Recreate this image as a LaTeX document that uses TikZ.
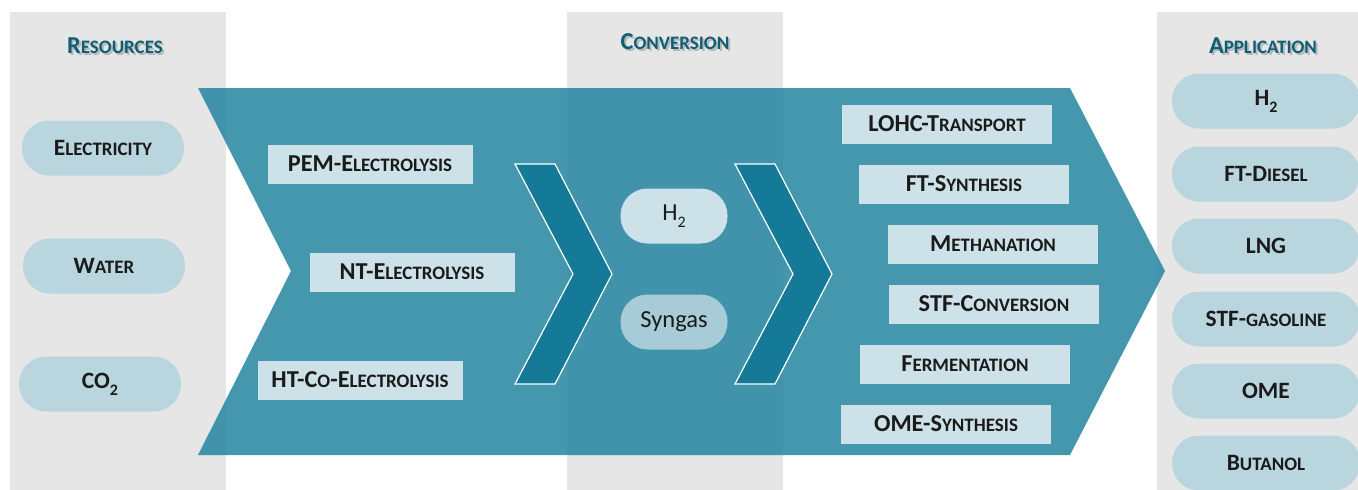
\documentclass[tikz,border=0pt]{standalone}
\usepackage{fontspec}
\setmainfont{Carlito}
\usepackage{xcolor}
\usepackage{tikz}

\definecolor{panelgray}{HTML}{E6E6E6}
\definecolor{flowteal}{RGB}{36,133,160}
\definecolor{chevteal}{HTML}{157A97}
\definecolor{boxblue}{HTML}{CDE2E8}
\definecolor{pillblue}{HTML}{B9D5DE}
\definecolor{gasblue}{HTML}{A8CCD7}
\definecolor{headteal}{HTML}{0E5F73}
\definecolor{labelgray}{HTML}{1A1A1A}

\newcommand\lc[1]{{\fontsize{19}{22}\selectfont #1}}
\newcommand\lowtwo{\raisebox{-0.3em}{\fontsize{16}{16}\selectfont 2}}

\tikzset{
  panel/.style={fill=panelgray},
  head/.style={font=\bfseries\fontsize{24.3}{28}\selectfont,text=headteal},
  headshadow/.style={font=\bfseries\fontsize{24.3}{28}\selectfont,text=black,opacity=0.2},
  pill/.style={rectangle,rounded corners=27pt,fill=pillblue,minimum width=162,minimum height=55,
    font=\bfseries\fontsize{23.4}{26}\selectfont,text=labelgray,inner sep=0pt},
  procbox/.style={rectangle,fill=boxblue,minimum width=205,minimum height=39,
    font=\bfseries\fontsize{24.3}{28}\selectfont,text=labelgray,inner sep=0pt},
  carrier/.style={rectangle,rounded corners=27pt,minimum width=107,minimum height=55,
    font=\fontsize{24.5}{27}\selectfont,text=labelgray,inner sep=0pt},
  chev/.style={fill=chevteal,draw=white,line width=1.2pt,line join=miter}
}

\begin{document}
\begin{tikzpicture}[x=1pt,y=-1pt]
\useasboundingbox (0,0) rectangle (1358,490);
% grey columns
\fill[panel] (10,12) rectangle (226,490);
\fill[panel] (567,12) rectangle (783,490);
\fill[panel] (1157,12) rectangle (1358,490);

\node (resshadow) at (117,48) [headshadow] {R\lc{ESOURCES}};
\node (reshead) at (115,46) [head] {R\lc{ESOURCES}};
\node (convshadow) at (677,44) [headshadow] {C\lc{ONVERSION}};
\node (convhead) at (675,42) [head] {C\lc{ONVERSION}};
\node (appshadow) at (1265,48) [headshadow] {A\lc{PPLICATION}};
\node (apphead) at (1263,46) [head] {A\lc{PPLICATION}};

% big arrow
\fill[flowteal,opacity=0.85] (198,88) -- (1070,88) -- (1165,271) -- (1070,455) -- (198,455) -- (291,271) -- cycle;

% chevrons
\filldraw[chev] (515,164) -- (555,164) -- (612,274) -- (555,384) -- (515,384) -- (573,274) -- cycle;
\filldraw[chev] (735,164) -- (775,164) -- (832,274) -- (775,384) -- (735,384) -- (793,274) -- cycle;

% resources
\node (elec) at (103,148) [pill] {E\lc{LECTRICITY}};
\node (water) at (104,266) [pill] {W\lc{ATER}};
\node (co2) at (100,384) [pill] {CO\lowtwo};

% electrolysis
\node (pem) at (370,164) [procbox] {PEM-E\lc{LECTROLYSIS}};
\node (nt) at (412,272) [procbox] {NT-E\lc{LECTROLYSIS}};
\node (ht) at (360,380) [procbox] {HT-C\lc{O}-E\lc{LECTROLYSIS}};

% carriers
\node (htwo) at (674,216) [carrier,fill=boxblue] {H\lowtwo};
\node (syngas) at (674,322) [carrier,fill=gasblue] {Syngas};

% conversion routes
\node (lohc) at (947,124) [procbox,minimum width=210] {LOHC-T\lc{RANSPORT}};
\node (ft) at (964,184) [procbox,minimum width=210] {FT-S\lc{YNTHESIS}};
\node (meth) at (993,244) [procbox,minimum width=210] {M\lc{ETHANATION}};
\node (stf) at (994,304) [procbox,minimum width=210] {STF-C\lc{ONVERSION}};
\node (ferm) at (965,364) [procbox,minimum width=210] {F\lc{ERMENTATION}};
\node (omes) at (946,424) [procbox,minimum width=210] {OME-S\lc{YNTHESIS}};

% applications
\node (apph2) at (1266,101) [pill,minimum width=188] {H\lowtwo};
\node (diesel) at (1266,174) [pill,minimum width=188] {FT-D\lc{IESEL}};
\node (lng) at (1266,246) [pill,minimum width=188] {LNG};
\node (gasoline) at (1266,319) [pill,minimum width=188] {STF-\lc{GASOLINE}};
\node (ome) at (1266,391) [pill,minimum width=188] {OME};
\node (butanol) at (1266,463) [pill,minimum width=188] {B\lc{UTANOL}};
\end{tikzpicture}
\end{document}
